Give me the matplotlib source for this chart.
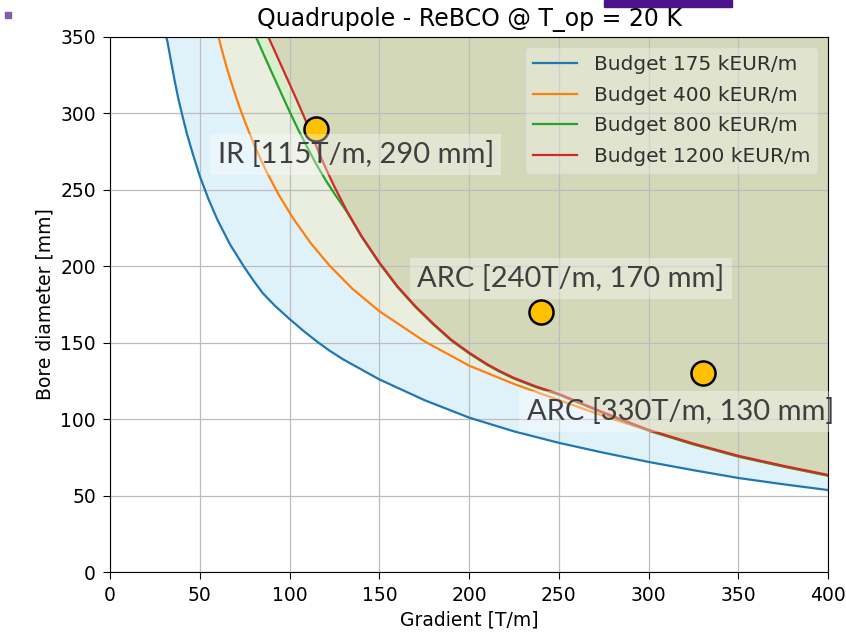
import numpy as np
import matplotlib
matplotlib.use("Agg")
import matplotlib.pyplot as plt
from matplotlib.patches import Rectangle

# Budget curves: gradient [T/m] vs bore diameter [mm]
g_175 = [31.3, 32, 34, 36, 38, 40, 43, 46, 50, 55, 60, 67, 75, 80, 85, 92, 100, 108, 115, 122, 130, 150,
         175, 200, 225, 250, 275, 300, 325, 350, 375, 400]
d_175 = [350, 347, 334, 321.5, 310, 300, 286, 274, 259, 243.5, 230, 214, 199, 190.5, 182.5, 174, 165.5, 157.5,
         151, 145, 139, 126, 112.5, 101, 92, 84.5, 78, 72, 66.6, 61.5, 57.4, 53.6]

g_400 = [60.5, 62, 65, 68, 72, 76, 81, 87, 94, 102, 112, 122.6, 135, 150, 175, 200, 225, 250,
         275, 300, 325, 350, 375, 400]
d_400 = [350, 342.7, 330, 318.6, 304.5, 292, 277.5, 262.3, 246.7, 231.3, 214.8, 200, 185.3, 170.6, 151, 135,
         123, 112.5, 102, 92.5, 83.5, 75.5, 69, 63]

g_800 = [81.3, 86, 91, 96, 100.5, 105, 110, 115, 120, 125, 132, 140, 150, 160, 170, 180, 190, 200,
         210, 217, 225, 237, 250, 275, 300, 325, 350, 375, 400]
d_800 = [350, 337.5, 324.5, 311.5, 300, 289, 277.5, 266.5, 256.5, 247.5, 235.5, 219.5, 202, 186.5, 173.5,
         162, 151.5, 143, 135.5, 131, 126.5, 121, 116, 103.8, 92.5, 83.5, 75.5, 69, 63]

g_1200 = [88.2, 93, 98, 103, 108, 113, 117, 121, 125, 132, 140, 150, 160, 170, 180, 190, 200, 210,
          217, 225, 237, 250, 275, 300, 325, 350, 375, 400]
d_1200 = [350, 337.5, 324.5, 311.5, 298, 284, 272.5, 262, 252, 236, 220, 202.5, 187, 174, 162.5, 152, 143.5,
          136, 131.5, 127, 121.5, 116.5, 104.3, 93, 84, 76, 69.5, 63.5]

budgets = ["175", "400", "800", "1200"]

# Design points
pt_names = ["IR", "ARC", "ARC"]
pt_grad = [115, 240, 330]
pt_bore = [290, 170, 130]

fig, ax = plt.subplots(figsize=(8.46, 6.37), dpi=100)
fig.subplots_adjust(left=0.130, right=0.979, bottom=0.102, top=0.942)


def band(ax, x1, y1, x2, y2, **kw):
    xs = np.concatenate([x1, x2[::-1]])
    ys = np.concatenate([y1, y2[::-1]])
    ax.fill(xs, ys, lw=0, **kw)


g1, d1 = np.array(g_175), np.array(d_175)
g2, d2 = np.array(g_400), np.array(d_400)
g3, d3 = np.array(g_800), np.array(d_800)
g4, d4 = np.array(g_1200), np.array(d_1200)

band(ax, g1, d1, g2, d2, color="skyblue", alpha=0.25)
band(ax, g2, d2, g3, d3, color="#9bb36b", alpha=0.22)
band(ax, g3, d3, g4, d4, color="#7acd58", alpha=0.3)
band(ax, g4, d4, np.array([400.0]), np.array([350.0]), color="#819037", alpha=0.35)

ax.plot(g1, d1, color="tab:blue", lw=1.6, label="Budget %s kEUR/m" % budgets[0])
ax.plot(g2, d2, color="tab:orange", lw=1.6, label="Budget %s kEUR/m" % budgets[1])
ax.plot(g3, d3, color="tab:green", lw=1.6, label="Budget %s kEUR/m" % budgets[2])
ax.plot(g4, d4, color="tab:red", lw=1.6, label="Budget %s kEUR/m" % budgets[3])

ax.set_xlim(0, 400)
ax.set_ylim(0, 350)
ax.set_xticks(np.arange(0, 401, 50))
ax.set_yticks(np.arange(0, 351, 50))
ax.grid(True, color="#bcbcbc", lw=0.9)
ax.tick_params(labelsize=13.5, length=5, pad=5)
ax.set_xlabel("Gradient [T/m]", fontsize=13.5)
ax.set_ylabel("Bore diameter [mm]", fontsize=13.5)
ax.set_title("Quadrupole - ReBCO @ T_op = 20 K", fontsize=17, pad=8)

leg = ax.legend(loc="upper right", fontsize=14.5, framealpha=0.3, edgecolor="#c8c8c8",
                handlelength=2.2, labelspacing=0.58)
for t in leg.get_texts():
    t.set_color("#303030")

# design points and their labels
ax.scatter(pt_grad, pt_bore, s=300, color="#ffc000", edgecolor="black", lw=1.8, zorder=5)

label_pos = [(60, 273), (171, 192), (232, 105)]
for name, g, d, (lx, ly) in zip(pt_names, pt_grad, pt_bore, label_pos):
    ax.text(lx, ly, "%s [%dT/m, %d mm]" % (name, g, d), fontsize=21, family="Lato",
            color="#404040", ha="left", va="center", zorder=6,
            bbox=dict(boxstyle="square,pad=0.25", facecolor="white", alpha=0.35, edgecolor="none"))

fig.patches.append(Rectangle((0.714, 0.989), 0.151, 0.011, transform=fig.transFigure,
                             color="#4b148c", zorder=10))
fig.patches.append(Rectangle((0.006, 0.972), 0.007, 0.009, transform=fig.transFigure,
                             color="#7f5fa8", zorder=10))

fig.savefig("out.png", dpi=100)
